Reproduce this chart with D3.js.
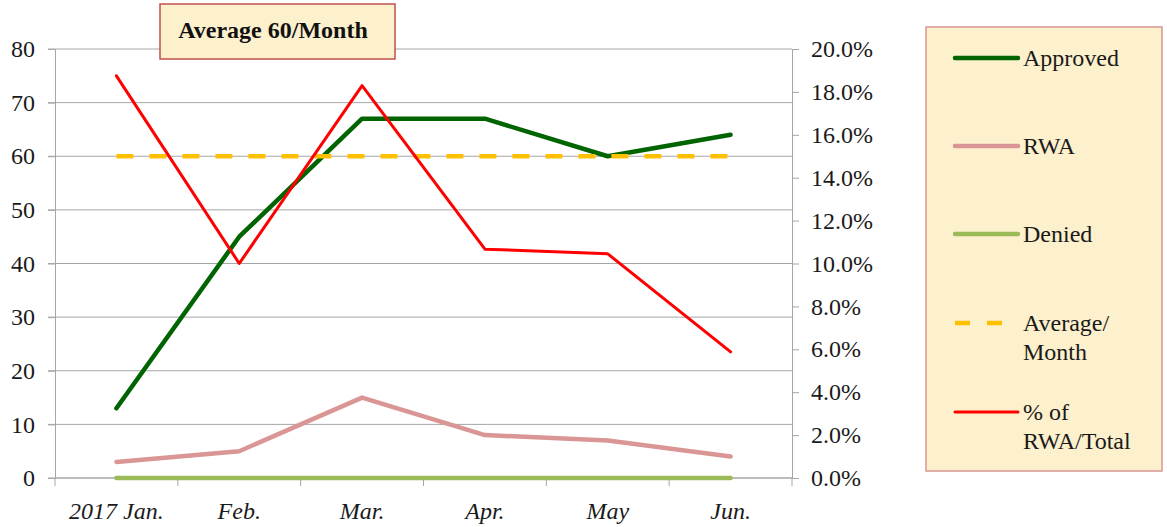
<!DOCTYPE html>
<html>
<head>
<meta charset="utf-8">
<script src="https://cdn.jsdelivr.net/npm/d3@7"></script>
<style>
  body { margin: 0; background: #fff; }
  svg, svg text { font-family: "Liberation Serif", "Times New Roman", serif !important; }
</style>
</head>
<body>
<div id="chart"></div>
<script>
// 数据
const months = ["2017 Jan.", "Feb.", "Mar.", "Apr.", "May", "Jun."];
const approved = [13, 45, 67, 67, 60, 64];
const rwa = [3, 5, 15, 8, 7, 4];
const denied = [0, 0, 0, 0, 0, 0];
const average = [60, 60, 60, 60, 60, 60];
const rwaPct = [0.1875, 0.10, 0.1829, 0.1067, 0.1045, 0.0588];
const leftTicks = [0, 10, 20, 30, 40, 50, 60, 70, 80];
const rightTicks = [0, 0.02, 0.04, 0.06, 0.08, 0.10, 0.12, 0.14, 0.16, 0.18, 0.20];

const width = 1167, height = 527;
const plot = {left: 55, right: 792, top: 49, bottom: 478};
const axisColor = "#a6a6a6";
const serif = "Liberation Serif";

const svg = d3.select("#chart").append("svg")
    .attr("width", width)
    .attr("height", height);

const x = d3.scaleBand().domain(months).range([plot.left, plot.right]).padding(0);
const cx = d => x(d) + x.bandwidth() / 2;
const y = d3.scaleLinear().domain([0, 80]).range([plot.bottom, plot.top]);
const y2 = d3.scaleLinear().domain([0, 0.2]).range([plot.bottom, plot.top]);

// 网格线
svg.append("g").selectAll("line")
    .data(leftTicks)
    .join("line")
    .attr("x1", plot.left - 7)
    .attr("x2", plot.right)
    .attr("y1", d => y(d))
    .attr("y2", d => y(d))
    .attr("stroke", axisColor)
    .attr("stroke-width", 1);

// 左轴
const leftAxis = svg.append("g")
    .attr("transform", `translate(${plot.left},0)`)
    .call(d3.axisLeft(y).tickValues(leftTicks).tickSize(7).tickPadding(13).tickFormat(d3.format("d")))
    .attr("font-family", null);
leftAxis.select(".domain").attr("stroke", axisColor);
leftAxis.selectAll(".tick line").attr("stroke", axisColor);
leftAxis.selectAll("text").attr("font-size", 24).attr("fill", "#1a1a1a")
    .style("font-family", serif);

// 右轴
const rightAxis = svg.append("g")
    .attr("transform", `translate(${plot.right},0)`)
    .call(d3.axisRight(y2).tickValues(rightTicks).tickSize(7).tickPadding(12).tickFormat(d3.format(".1%")))
    .attr("font-family", null);
rightAxis.select(".domain").attr("stroke", axisColor);
rightAxis.selectAll(".tick line").attr("stroke", axisColor);
rightAxis.selectAll("text").attr("font-size", 24).attr("fill", "#1a1a1a")
    .style("font-family", serif);

// X轴
svg.append("line")
    .attr("x1", plot.left).attr("x2", plot.right)
    .attr("y1", plot.bottom).attr("y2", plot.bottom)
    .attr("stroke", axisColor);
const bounds = months.map(m => x(m)).concat([plot.right]);
svg.append("g").selectAll("line")
    .data(bounds)
    .join("line")
    .attr("x1", d => d).attr("x2", d => d)
    .attr("y1", plot.bottom).attr("y2", plot.bottom + 8)
    .attr("stroke", axisColor);
svg.append("g").selectAll("text")
    .data(months)
    .join("text")
    .attr("x", d => cx(d))
    .attr("y", 519)
    .attr("text-anchor", "middle")
    .attr("font-size", 24)
    .attr("font-style", "italic")
    .attr("fill", "#1a1a1a")
    .style("font-family", serif)
    .text(d => d);

// 折线
const series = [
    {name: "Approved", values: approved, color: "#006400", width: 4.5, scale: y},
    {name: "RWA", values: rwa, color: "#d99694", width: 4.5, scale: y},
    {name: "Denied", values: denied, color: "#9bbb59", width: 4.5, scale: y},
    {name: "Average/Month", values: average, color: "#ffc000", width: 4.5, scale: y, dash: "17,16"},
    {name: "% of RWA/Total", values: rwaPct, color: "#ff0000", width: 3, scale: y2}
];

series.forEach(s => {
    const line = d3.line()
        .x((d, i) => cx(months[i]))
        .y(d => s.scale(d));
    svg.append("path")
        .datum(s.values)
        .attr("d", line)
        .attr("fill", "none")
        .attr("stroke", s.color)
        .attr("stroke-width", s.width)
        .attr("stroke-linejoin", "round")
        .attr("stroke-linecap", s.dash ? "butt" : "round")
        .attr("stroke-dasharray", s.dash || null);
});

// 标题框
svg.append("rect")
    .attr("x", 160).attr("y", 4)
    .attr("width", 235).attr("height", 55)
    .attr("fill", "#fdf0cc")
    .attr("stroke", "#c0504d")
    .attr("stroke-width", 1.5);
svg.append("text")
    .attr("x", 273).attr("y", 38)
    .attr("text-anchor", "middle")
    .attr("font-size", 24)
    .attr("font-weight", "bold")
    .attr("fill", "#111")
    .style("font-family", serif)
    .text("Average 60/Month");

// 图例
svg.append("rect")
    .attr("x", 926).attr("y", 27)
    .attr("width", 236).attr("height", 444)
    .attr("fill", "#fdf0cc")
    .attr("stroke", "#d99694")
    .attr("stroke-width", 1.5);

const legendRows = [
    {s: series[0], y: 58, lines: ["Approved"]},
    {s: series[1], y: 146, lines: ["RWA"]},
    {s: series[2], y: 234, lines: ["Denied"]},
    {s: series[3], y: 323, lines: ["Average/", "Month"]},
    {s: series[4], y: 412, lines: ["% of", "RWA/Total"]}
];

legendRows.forEach(r => {
    svg.append("line")
        .attr("x1", 955).attr("x2", 1018)
        .attr("y1", r.y).attr("y2", r.y)
        .attr("stroke", r.s.color)
        .attr("stroke-width", r.s.width)
        .attr("stroke-linecap", r.s.dash ? "butt" : "round")
        .attr("stroke-dasharray", r.s.dash ? "15,17" : null);
    const t = svg.append("text")
        .attr("x", 1023).attr("y", r.y + 8)
        .attr("font-size", 24)
        .attr("fill", "#1a1a1a")
        .style("font-family", serif);
    r.lines.forEach((l, i) => {
        t.append("tspan").attr("x", 1023).attr("dy", i === 0 ? 0 : 29).text(l);
    });
});
</script>
</body>
</html>
